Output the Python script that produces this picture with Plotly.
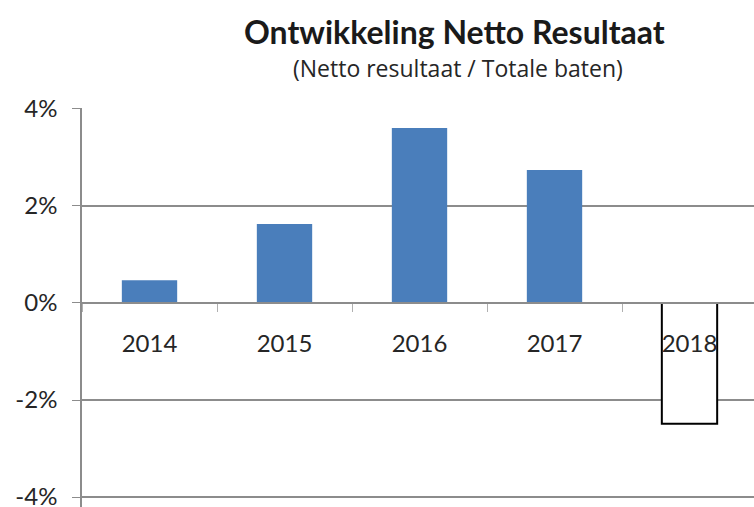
import plotly.graph_objects as go

years = ["2014", "2015", "2016", "2017", "2018"]
values = [0.0047, 0.0163, 0.0361, 0.0274, -0.0249]
y_ticks = [-0.04, -0.02, 0.0, 0.02, 0.04]
y_tick_labels = ["-4%", "-2%", "0%", "2%", "4%"]

fills = ["#4A7EBB" if v >= 0 else "#FFFFFF" for v in values]
edges = ["#4A7EBB" if v >= 0 else "#000000" for v in values]
edge_w = [0 if v >= 0 else 2 for v in values]

W, H = 754, 507
L, T, B = 82, 108, 0
plot_w = W - L
plot_h = H - T - B
cat_px = 135
y_lo, y_hi = -0.04206, 0.0402
zero_pos = (0 - y_lo) / (y_hi - y_lo)

fig = go.Figure(go.Bar(
    x=years, y=values, width=0.41,
    marker=dict(color=fills, line=dict(color=edges, width=edge_w)),
    hoverinfo="skip",
))

font = "Lato, 'Open Sans', sans-serif"

fig.update_layout(
    width=W, height=H,
    margin=dict(l=L, r=0, t=T, b=B, pad=0, autoexpand=False),
    paper_bgcolor="white", plot_bgcolor="white",
    showlegend=False,
    font=dict(family=font, color="#262626", size=24),
    xaxis=dict(
        type="category",
        range=[-0.5, -0.5 + plot_w / cat_px],
        anchor="free", position=zero_pos,
        automargin=False,
        showline=True, linecolor="#8C8C8C", linewidth=1.5,
        ticks="outside", tickson="boundaries", ticklen=8, tickcolor="#B0B0B0", tickwidth=1,
        ticklabelstandoff=19,
        tickfont=dict(family=font, size=24, color="#262626"),
        showgrid=False, zeroline=False,
    ),
    yaxis=dict(
        range=[y_lo, y_hi],
        automargin=False,
        tickvals=y_ticks, ticktext=y_tick_labels,
        showline=True, linecolor="#8C8C8C", linewidth=1.5,
        ticks="outside", ticklen=8, tickcolor="#8C8C8C", tickwidth=1,
        showgrid=True, gridcolor="#8C8C8C", gridwidth=1.5,
        zeroline=False,
        tickfont=dict(family=font, size=24, color="#262626"),
        ticklabelstandoff=10,
        ticklabeloverflow="allow",
    ),
    annotations=[
        dict(text="<b>Ontwikkeling Netto Resultaat</b>", xref="paper", yref="paper",
             x=(454 - L) / plot_w, y=(H - B - 31) / plot_h, xanchor="center", yanchor="middle",
             showarrow=False, font=dict(family=font, size=32, color="#1a1a1a")),
        dict(text="(Netto resultaat / Totale baten)", xref="paper", yref="paper",
             x=(458 - L) / plot_w, y=(H - B - 68) / plot_h, xanchor="center", yanchor="middle",
             showarrow=False, font=dict(family="'Open Sans', sans-serif", size=23, color="#262626")),
    ],
)

fig.write_html("out.html")
